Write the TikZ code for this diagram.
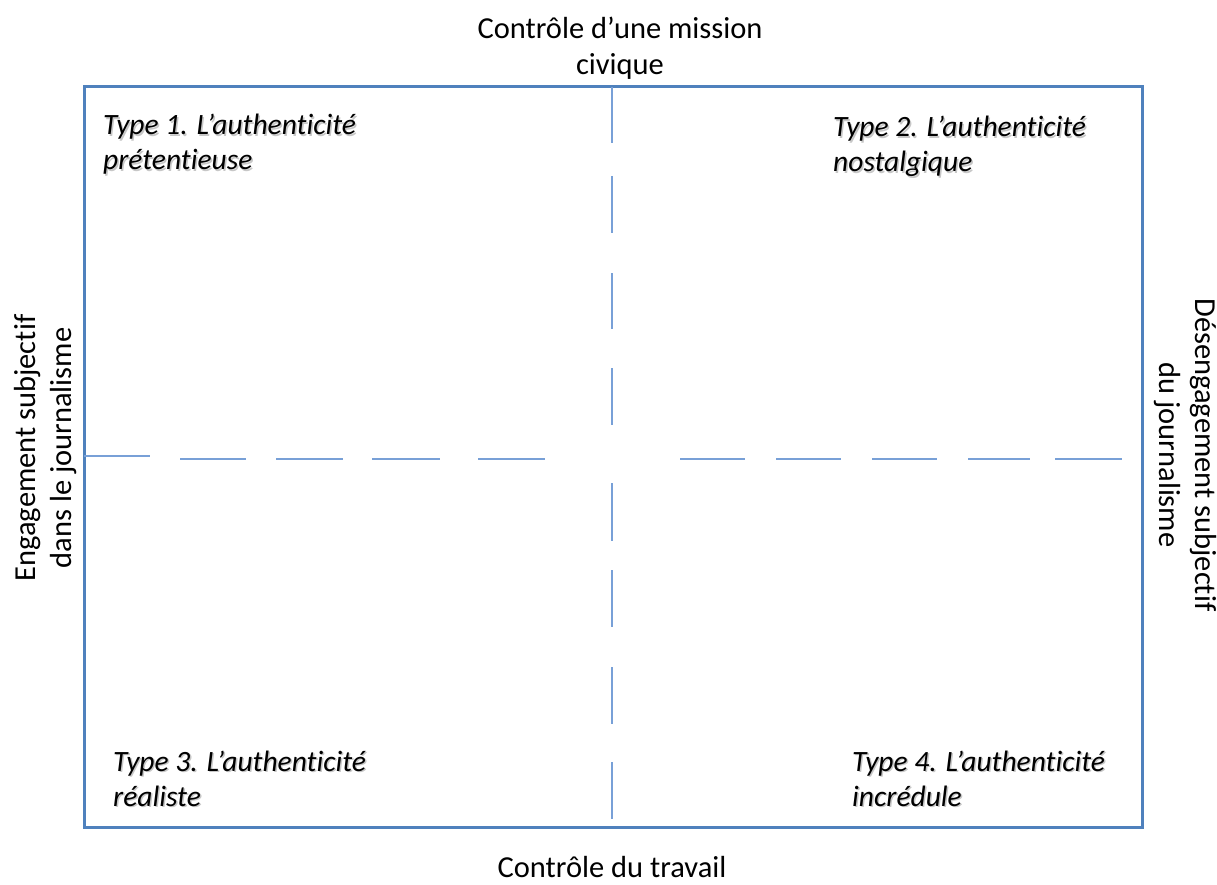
\documentclass[tikz,border=0pt]{standalone}
\usepackage{fontspec}
\setmainfont[Ligatures={TeX,NoCommon}]{Carlito}
\definecolor{cadre}{RGB}{79,129,189}
\definecolor{axe}{RGB}{120,160,215}
\begin{document}
\begin{tikzpicture}[x=1pt,y=-1pt,
    lbl/.style={font=\fontsize{30.5}{36}\selectfont, align=center, inner sep=0pt},
    typ/.style={font=\fontsize{29.5}{35}\selectfont\itshape, align=left, inner sep=0pt, anchor=base west},
    ombre/.style={typ, text=black!22},
    axis/.style={draw=axe, line width=1.6pt}]
    \useasboundingbox (0,0) rectangle (1217,885);
    % cadre
    \draw[cadre, line width=3pt] (84,87) rectangle (1142,827);
    % axes
    \draw[axis] (84,456) -- (150,456);
    \foreach \a/\b in {180/246,276/343,372/440,478/545,680/745,776/841,872/937,968/1030,1055/1122}
        \draw[axis] (\a,459) -- (\b,459);
    \foreach \a/\b in {87/143,176/233,273/329,368/425,483/541,570/627,667/724,762/819}
        \draw[axis] (612,\a) -- (612,\b);
    % libelles des axes
    \node[lbl, anchor=base] (haut) at (620,75) {Contrôle d’une mission\\civique};
    \node[lbl, anchor=base] (bas) at (612,877) {Contrôle du travail};
    \node[lbl, rotate=90] (gauche) at (46,448) {Engagement subjectif\\dans le journalisme};
    \node[lbl, rotate=-90] (droite) at (1185,455) {Désengagement subjectif\\du journalisme};
    % types
    \node[ombre] (t1o) at (104.5,171.5) {Type 1. L’authenticité\\prétentieuse};
    \node[typ] (t1) at (103,170) {Type 1. L’authenticité\\prétentieuse};
    \node[ombre] (t2o) at (834.5,173.5) {Type 2. L’authenticité\\nostalgique};
    \node[typ] (t2) at (833,172) {Type 2. L’authenticité\\nostalgique};
    \node[ombre] (t3o) at (114.5,807.5) {Type 3. L’authenticité\\réaliste};
    \node[typ] (t3) at (113,806) {Type 3. L’authenticité\\réaliste};
    \node[ombre] (t4o) at (853.5,807.5) {Type 4. L’authenticité\\incrédule};
    \node[typ] (t4) at (852,806) {Type 4. L’authenticité\\incrédule};
\end{tikzpicture}
\end{document}
